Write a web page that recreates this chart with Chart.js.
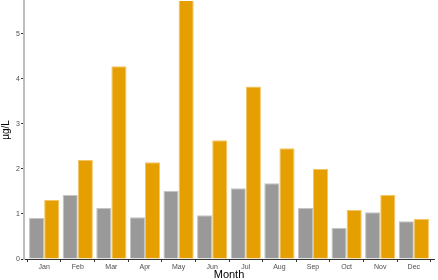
<!DOCTYPE html>
<html>
<head>
<meta charset="utf-8">
<script src="https://cdn.jsdelivr.net/npm/chart.js@4"></script>
<style>
  html, body { margin: 0; padding: 0; background: #fff; }
  #wrap { width: 438px; height: 280px; }
</style>
</head>
<body>
<div id="wrap"><canvas id="chart"></canvas></div>
<script>
const MONTHS = ['Jan', 'Feb', 'Mar', 'Apr', 'May', 'Jun', 'Jul', 'Aug', 'Sep', 'Oct', 'Nov', 'Dec'];
const GREY_VALUES = [0.91, 1.42, 1.13, 0.93, 1.51, 0.97, 1.57, 1.68, 1.13, 0.69, 1.04, 0.84];
const ORANGE_VALUES = [1.31, 2.20, 4.28, 2.15, 6.30, 2.64, 3.83, 2.46, 2.00, 1.09, 1.42, 0.89];
const Y_TICKS = [0, 1, 2, 3, 4, 5];

// linear x axis so the ends get ggplot-like 0.6 expansion
const toPoints = vals => vals.map((v, i) => ({ x: i + 1, y: v }));

new Chart(document.getElementById('chart'), {
  type: 'bar',
  data: {
    datasets: [
      {
        data: toPoints(GREY_VALUES),
        backgroundColor: '#999999',
        borderColor: '#c4c4c4',
        borderWidth: 1
      },
      {
        data: toPoints(ORANGE_VALUES),
        backgroundColor: '#E69F00',
        borderColor: '#f2c566',
        borderWidth: 1
      }
    ]
  },
  options: {
    responsive: true,
    maintainAspectRatio: false,
    animation: false,
    layout: { padding: { top: 0, right: 4, bottom: 0, left: 0 } },
    plugins: { legend: { display: false }, tooltip: { enabled: false } },
    datasets: { bar: { categoryPercentage: 0.9, barPercentage: 1.0 } },
    scales: {
      x: {
        type: 'linear',
        min: 0.4,
        max: 12.6,
        offset: false,
        afterBuildTicks: axis => { axis.ticks = MONTHS.map((m, i) => ({ value: i + 1 })); },
        afterFit: axis => { axis.height = 21; },
        grid: { drawOnChartArea: false, drawTicks: true, tickLength: 3, color: '#333' },
        border: { color: '#333', width: 1 },
        ticks: {
          autoSkip: false,
          maxRotation: 0,
          padding: 1,
          color: '#4d4d4d',
          font: { family: 'Liberation Sans', size: 7 },
          callback: v => MONTHS[v - 1]
        },
        title: {
          display: true,
          text: 'Month',
          color: '#000',
          padding: { top: 0, bottom: 0 },
          font: { family: 'Liberation Sans', size: 11, lineHeight: 1 }
        }
      },
      y: {
        min: 0,
        max: 5.73,
        afterBuildTicks: axis => { axis.ticks = Y_TICKS.map(v => ({ value: v })); },
        afterFit: axis => { axis.width = 24; },
        grid: { drawOnChartArea: false, drawTicks: true, tickLength: 3, color: '#333' },
        border: { color: '#bdbdbd', width: 2 },
        ticks: {
          padding: 1,
          color: '#4d4d4d',
          font: { family: 'Liberation Sans', size: 7, lineHeight: 0 }
        },
        title: {
          display: true,
          text: 'µg/L',
          color: '#000',
          padding: { top: 0, bottom: 0 },
          font: { family: 'Liberation Sans', size: 10 }
        }
      }
    }
  }
});
</script>
</body>
</html>
